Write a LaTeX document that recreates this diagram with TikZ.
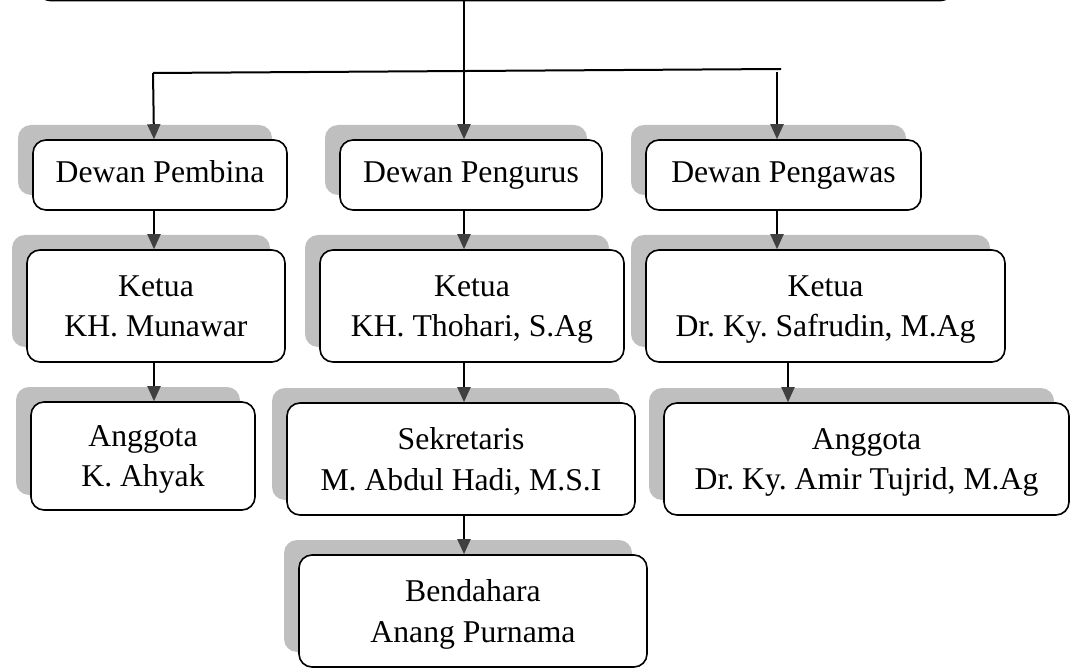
\documentclass[tikz,border=0pt]{standalone}
\usepackage{fontspec}
\setmainfont{Liberation Serif}
\usepackage{tikz}
\usetikzlibrary{arrows.meta, shadows}
\definecolor{shadowgray}{HTML}{BFBFBF}
\definecolor{tipgray}{HTML}{404040}
\frenchspacing
\tikzset{
		unit/.style={draw, line width=1.6pt, rounded corners=13pt, fill=white,
			align=center, inner sep=0pt,
			font=\fontsize{31.7}{40.5}\selectfont,
			drop shadow={shadow xshift=-15pt, shadow yshift=15pt, shadow scale=1,
				fill=shadowgray, opacity=1}},
		single/.style={unit, text height=28pt, text depth=12pt},
		pair/.style={unit, text depth=0pt},
		link/.style={->, line width=2pt}
	}

\begin{document}
\begin{tikzpicture}[x=1pt, y=-1pt, >={Triangle[width=13pt, length=15pt, color=tipgray]}]
				\path[use as bounding box, clip] (0,0) rectangle (1074,671);

				\node[unit, anchor=south, minimum width=915, minimum height=90] (top) at (495.5,1.5) {};

				\node[single, minimum width=254, minimum height=70] (pembina)    at (160,175)   {Dewan Pembina};
				\node[single, minimum width=262, minimum height=70] (pengurus)   at (471,175)   {Dewan Pengurus};
				\node[single, minimum width=275, minimum height=70] (pengawas)   at (783.5,175) {Dewan Pengawas};

				\node[pair, minimum width=258, minimum height=112]  (ketuaA)     at (156,306)   {Ketua\\KH. Munawar};
				\node[pair, minimum width=304, minimum height=112]  (ketuaB)     at (472,306)   {Ketua\\KH. Thohari, S.Ag};
				\node[pair, minimum width=359, minimum height=112]  (ketuaC)     at (825.5,306) {Ketua\\Dr. Ky. Safrudin, M.Ag};

				\node[pair, minimum width=224, minimum height=108]  (anggotaA)   at (143,456)   {Anggota\\K. Ahyak};
				\node[pair, minimum width=348, minimum height=112]  (sekretaris) at (461,459)   {Sekretaris\\M. Abdul Hadi, M.S.I};
				\node[pair, minimum width=405, minimum height=112]  (anggotaC)   at (866.5,459) {Anggota\\Dr. Ky. Amir Tujrid, M.Ag};

				\node[pair, minimum width=348, minimum height=112]  (bendahara)  at (473,611)   {Bendahara\\Anang Purnama};

				\coordinate (barL) at (153,73);
				\coordinate (barR) at (781,69);
				\coordinate (colA) at (154,0);
				\coordinate (colB) at (464,0);
				\coordinate (colC) at (777,0);
				\coordinate (colD) at (788,0);

				\draw[line width=2pt] (barL) -- (barR);
				\draw[link] (top.south -| colB)        -- (pengurus.north -| colB);
				\draw[link] (barL)                     -- (pembina.north -| colA);
				\draw[link] (colC |- 0,72)              -- (pengawas.north -| colC);

				\draw[link] (pembina.south -| colA)    -- (ketuaA.north -| colA);
				\draw[link] (pengurus.south -| colB)   -- (ketuaB.north -| colB);
				\draw[link] (pengawas.south -| colC)   -- (ketuaC.north -| colC);

				\draw[link] (ketuaA.south -| colA)     -- (anggotaA.north -| colA);
				\draw[link] (ketuaB.south -| colB)     -- (sekretaris.north -| colB);
				\draw[link] (ketuaC.south -| colD)     -- (anggotaC.north -| colD);
				\draw[link] (sekretaris.south -| colB) -- (bendahara.north -| colB);
			\end{tikzpicture}
\end{document}
